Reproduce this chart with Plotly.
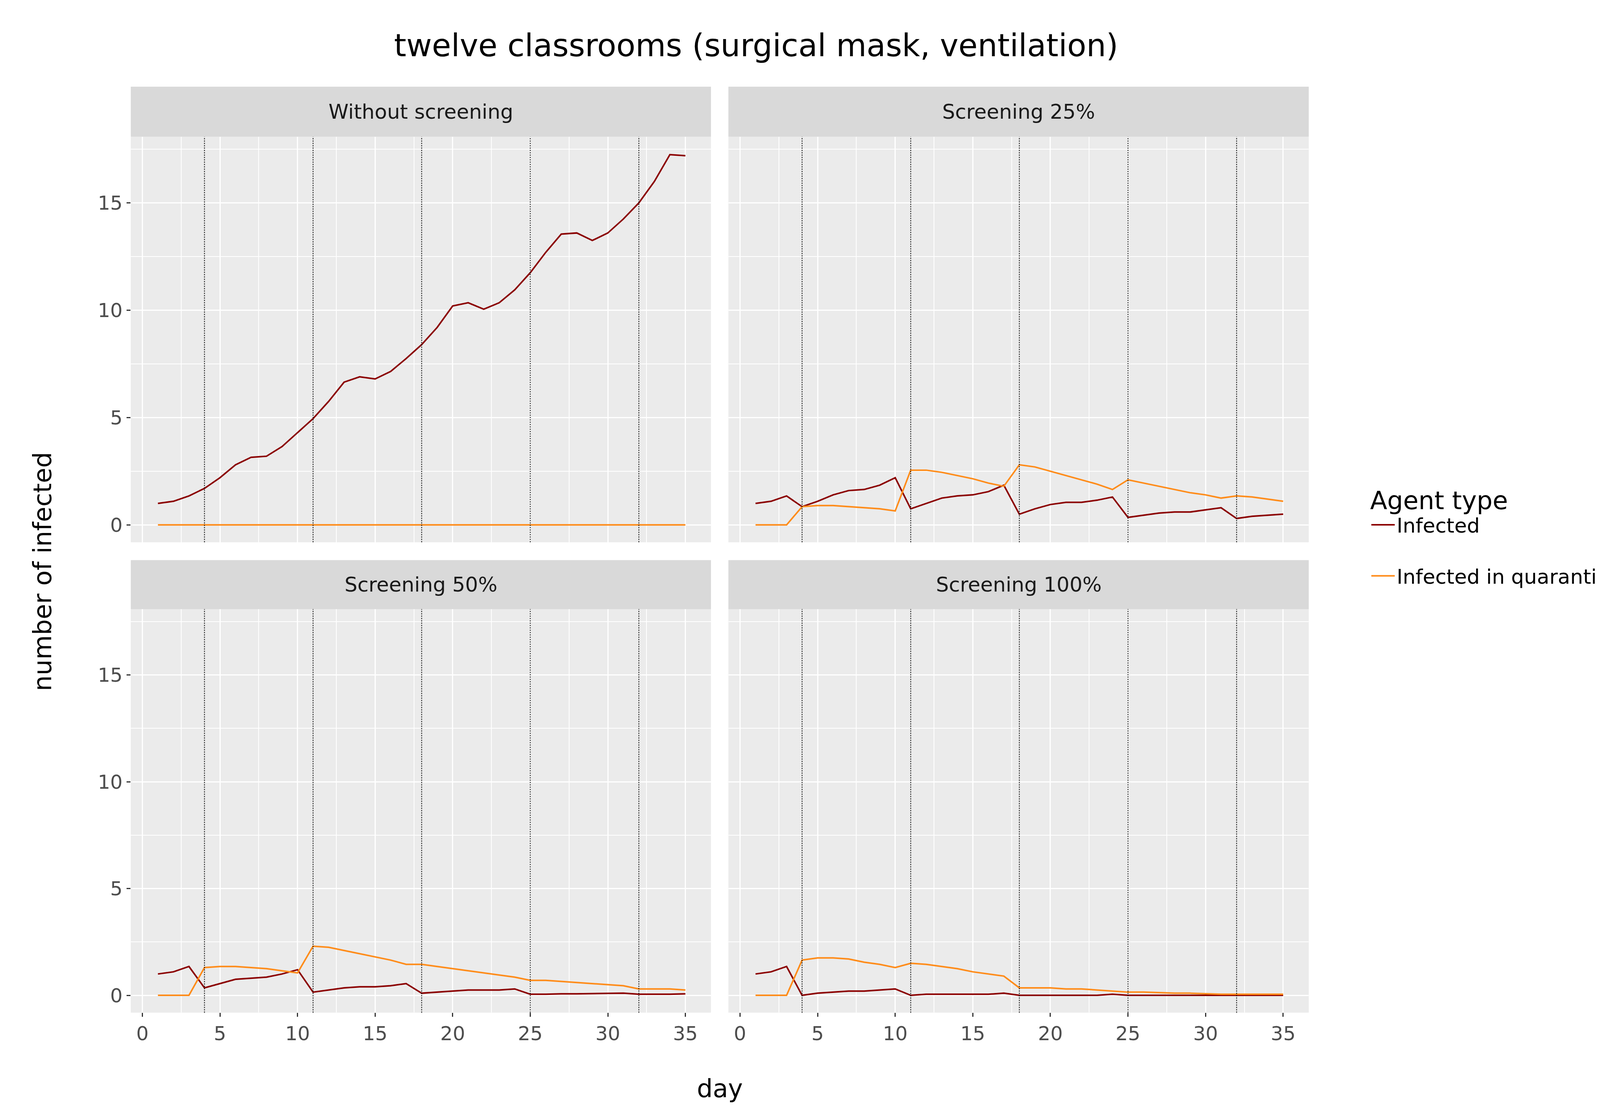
import plotly.graph_objects as go
from plotly.subplots import make_subplots

days = list(range(1, 36))

panel_titles = ["Without screening", "Screening 25%", "Screening 50%", "Screening 100%"]

infected_none = [1.0, 1.1, 1.35, 1.7, 2.2, 2.8, 3.15, 3.2, 3.65, 4.3, 4.95, 5.75, 6.65, 6.9, 6.8,
                 7.15, 7.75, 8.4, 9.2, 10.2, 10.35, 10.05, 10.35, 10.95, 11.75, 12.7, 13.55, 13.6,
                 13.25, 13.6, 14.25, 15.0, 16.0, 17.25, 17.2]
quarantine_none = [0.0] * 35

infected_25 = [1.0, 1.1, 1.35, 0.85, 1.1, 1.4, 1.6, 1.65, 1.85, 2.2, 0.75, 1.0, 1.25, 1.35, 1.4,
               1.55, 1.85, 0.5, 0.75, 0.95, 1.05, 1.05, 1.15, 1.3, 0.35, 0.45, 0.55, 0.6, 0.6,
               0.7, 0.8, 0.3, 0.4, 0.45, 0.5]
quarantine_25 = [0, 0, 0, 0.85, 0.9, 0.9, 0.85, 0.8, 0.75, 0.65, 2.55, 2.55, 2.45, 2.3, 2.15,
                 1.95, 1.8, 2.8, 2.7, 2.5, 2.3, 2.1, 1.9, 1.65, 2.1, 1.95, 1.8, 1.65, 1.5, 1.4,
                 1.25, 1.35, 1.3, 1.2, 1.1]

infected_50 = [1.0, 1.1, 1.35, 0.35, 0.55, 0.75, 0.8, 0.85, 1.0, 1.2, 0.15, 0.25, 0.35, 0.4, 0.4,
               0.45, 0.55, 0.1, 0.15, 0.2, 0.25, 0.25, 0.25, 0.3, 0.05, 0.05, 0.07, 0.07, 0.08,
               0.1, 0.1, 0.05, 0.05, 0.05, 0.07]
quarantine_50 = [0, 0, 0, 1.3, 1.35, 1.35, 1.3, 1.25, 1.15, 1.05, 2.3, 2.25, 2.1, 1.95, 1.8, 1.65,
                 1.45, 1.45, 1.35, 1.25, 1.15, 1.05, 0.95, 0.85, 0.7, 0.7, 0.65, 0.6, 0.55, 0.5,
                 0.45, 0.3, 0.3, 0.3, 0.25]

infected_100 = [1.0, 1.1, 1.35, 0.0, 0.1, 0.15, 0.2, 0.2, 0.25, 0.3, 0.0, 0.05, 0.05, 0.05, 0.05,
                0.05, 0.1, 0, 0, 0, 0, 0, 0, 0.05, 0, 0, 0, 0, 0, 0, 0, 0, 0, 0, 0]
quarantine_100 = [0, 0, 0, 1.65, 1.75, 1.75, 1.7, 1.55, 1.45, 1.3, 1.5, 1.45, 1.35, 1.25, 1.1, 1.0,
                  0.9, 0.35, 0.35, 0.35, 0.3, 0.3, 0.25, 0.2, 0.15, 0.15, 0.12, 0.1, 0.1, 0.08,
                  0.05, 0.05, 0.05, 0.05, 0.05]

weekend_days = [4, 11, 18, 25, 32]

infected_series = [infected_none, infected_25, infected_50, infected_100]
quarantine_series = [quarantine_none, quarantine_25, quarantine_50, quarantine_100]

RED = "#8B0000"
ORANGE = "#FF8C1A"
FONT = "DejaVu Sans"

fig = make_subplots(rows=2, cols=2, shared_xaxes=True, shared_yaxes=True)

# panel domains
xdom = [[0.0712, 0.3948], [0.4045, 0.7282]]
ydom = [[0.516, 0.880], [0.0938, 0.456]]
strip = [[0.880, 0.925], [0.456, 0.500]]

for i in range(4):
    r, c = i // 2 + 1, i % 2 + 1
    fig.add_trace(go.Scatter(x=days, y=infected_series[i], mode="lines", name="Infected",
                             legendgroup="a", line=dict(color=RED, width=4),
                             showlegend=(i == 0)), row=r, col=c)
    fig.add_trace(go.Scatter(x=days, y=quarantine_series[i], mode="lines",
                             name="Infected in quarantine", legendgroup="b",
                             line=dict(color=ORANGE, width=4), showlegend=(i == 0)), row=r, col=c)
    for d in weekend_days:
        fig.add_vline(x=d, line=dict(color="black", width=2, dash="dot"), row=r, col=c)
    # strip header
    fig.add_shape(type="rect", xref="paper", yref="paper",
                  x0=xdom[c - 1][0], x1=xdom[c - 1][1], y0=strip[r - 1][0], y1=strip[r - 1][1],
                  fillcolor="#D9D9D9", line=dict(width=0))
    fig.add_annotation(text=panel_titles[i], xref="paper", yref="paper", showarrow=False,
                       x=sum(xdom[c - 1]) / 2, y=sum(strip[r - 1]) / 2,
                       xanchor="center", yanchor="middle",
                       font=dict(size=52, color="#1A1A1A", family=FONT))

axis_common = dict(showline=False, zeroline=False, gridcolor="white", gridwidth=3,
                   ticks="outside", ticklen=10, tickwidth=3, tickcolor="#333333",
                   tickfont=dict(size=50, color="#4D4D4D", family=FONT),
                   minor=dict(showgrid=True, gridcolor="white", gridwidth=1.5))

for i in range(4):
    r, c = i // 2 + 1, i % 2 + 1
    fig.update_xaxes(axis_common, range=[-0.75, 36.65], tickvals=[0, 5, 10, 15, 20, 25, 30, 35],
                     minor_dtick=2.5, minor_tick0=2.5, domain=xdom[c - 1],
                     showticklabels=(r == 2), ticks="outside" if r == 2 else "", row=r, col=c)
    fig.update_yaxes(axis_common, range=[-0.81, 18.08], tickvals=[0, 5, 10, 15],
                     minor_dtick=2.5, minor_tick0=2.5, domain=ydom[r - 1],
                     showticklabels=(c == 1), ticks="outside" if c == 1 else "", row=r, col=c)

fig.add_annotation(text="day", xref="paper", yref="paper", x=0.3997, y=0.012,
                   xanchor="center", yanchor="bottom", showarrow=False,
                   font=dict(size=64, color="black", family=FONT))
fig.add_annotation(text="number of infected", xref="paper", yref="paper", x=0.022, y=0.49,
                   xanchor="center", yanchor="middle",
                   textangle=-90, showarrow=False, font=dict(size=64, color="black", family=FONT))

fig.update_layout(
    width=4590, height=2853,
    margin=dict(l=0, r=0, t=0, b=0),
    paper_bgcolor="white", plot_bgcolor="#EBEBEB",
    title=dict(text="twelve classrooms (surgical mask, ventilation)", x=0.42, xanchor="center",
               y=0.962, yanchor="middle", font=dict(size=80, color="black", family=FONT)),
    legend=dict(x=0.762, y=0.575, xanchor="left", yanchor="top", bgcolor="white",
                title=dict(text="Agent type", font=dict(size=64, color="black", family=FONT)),
                font=dict(size=52, color="black", family=FONT), tracegroupgap=60,
                itemwidth=60),
)

fig.write_html("out.html")
